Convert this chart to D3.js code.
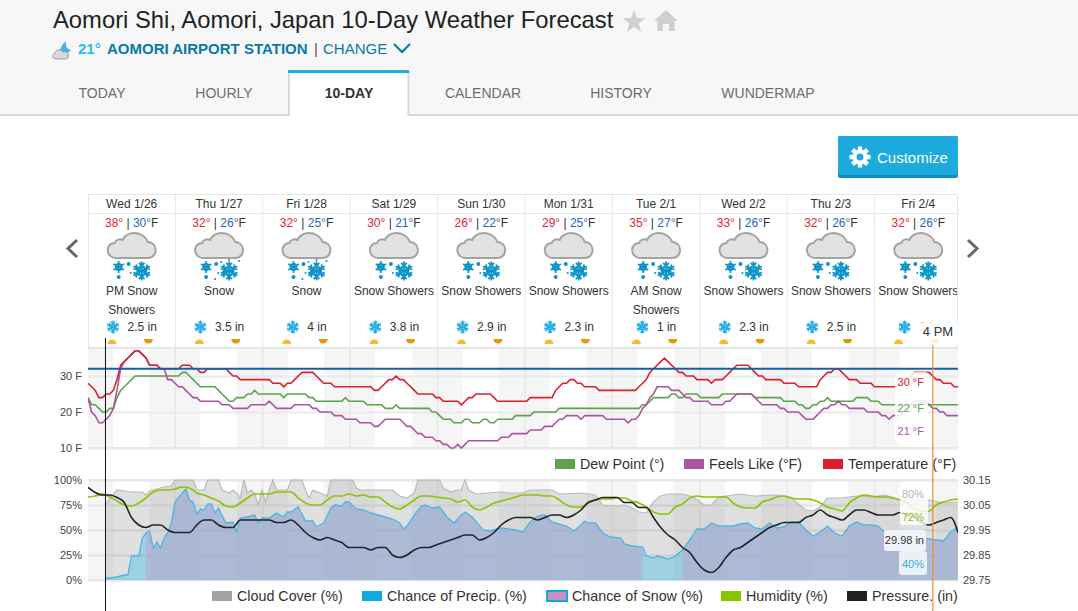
<!DOCTYPE html>
<html>
<head>
<meta charset="utf-8">
<title>Aomori Shi 10-Day Weather Forecast</title>
<script src="https://cdn.jsdelivr.net/npm/d3@7"></script>
<style>
    html, body { margin: 0; padding: 0; background: #fff; overflow: hidden; }
    svg { display: block; font-family: "Liberation Sans", Arial, sans-serif; }
</style>
</head>
<body>
<div id="demo"></div>
<script>
// forecast table
const dayNames = ["Wed 1/26","Thu 1/27","Fri 1/28","Sat 1/29","Sun 1/30","Mon 1/31","Tue 2/1","Wed 2/2","Thu 2/3","Fri 2/4"];
const highs = [38,32,32,30,26,29,35,33,32,32];
const lows = [30,26,25,21,22,25,27,26,26,26];
const conditions = [["PM Snow","Showers"],["Snow"],["Snow"],["Snow Showers"],["Snow Showers"],["Snow Showers"],["AM Snow","Showers"],["Snow Showers"],["Snow Showers"],["Snow Showers"]];
const snowfall = ["2.5 in","3.5 in","4 in","3.8 in","2.9 in","2.3 in","1 in","2.3 in","2.5 in","2 in"];
const tabNames = ["TODAY","HOURLY","10-DAY","CALENDAR","HISTORY","WUNDERMAP"];

// hourly temperature series, one line per day
const temperature = [
    28,27,26,24,24,25,25,26,29,33,34,35,36,37,37,36,35,33,33,33,32,32,32,32,
    32,32,33,33,33,32,32,31,31,32,32,32,32,32,32,31,30,30,29,29,29,29,29,29,
    29,29,29,28,28,28,27,28,28,29,30,31,31,31,31,30,29,28,28,28,27,27,27,27,
    27,27,27,27,27,27,27,26,26,27,28,29,29,30,29,29,28,27,26,25,25,25,25,25,
    24,24,23,23,23,23,23,22,23,24,24,25,25,25,25,25,24,23,23,23,23,23,23,23,
    23,23,24,24,24,24,24,24,24,26,27,28,28,29,29,28,28,27,27,27,27,26,26,26,
    26,26,26,26,26,26,26,26,27,28,29,31,32,33,34,35,34,33,32,31,31,30,30,30,
    29,29,29,29,28,29,29,29,30,31,32,33,33,33,33,32,31,30,30,29,29,29,29,29,
    28,28,28,28,27,27,27,27,27,27,29,30,31,31,32,32,31,30,29,29,29,28,28,28,
    28,27,27,27,27,27,27,27,28,28,29,30,31,31,31,31,31,30,29,29,28,28,28,27,
    27];
const dewPoint = [
    24,22,22,21,20,20,21,21,24,26,27,28,29,30,30,30,30,30,30,30,30,30,30,30,
    30,30,31,31,30,29,28,27,27,27,27,27,26,25,24,23,23,24,24,24,25,25,26,25,
    25,25,25,25,25,25,24,25,25,25,25,25,25,24,24,23,23,23,23,23,23,23,23,24,
    23,23,23,23,23,22,22,22,22,22,21,21,21,22,21,21,21,21,21,21,21,21,21,20,
    20,19,18,18,18,17,17,17,18,18,17,17,17,18,18,17,17,18,18,18,18,18,19,19,
    19,19,19,20,20,20,20,20,20,20,21,21,21,21,21,21,21,21,21,21,21,21,21,21,
    21,21,21,21,21,21,21,21,21,22,22,23,24,24,24,24,24,25,25,24,24,25,25,25,
    25,24,24,24,24,24,24,25,25,25,25,25,25,25,25,25,24,24,24,24,24,24,24,24,
    23,23,23,23,22,22,21,21,22,22,23,23,24,23,23,23,23,23,23,23,24,24,24,24,
    23,23,23,22,22,22,22,22,22,22,22,22,22,22,23,22,22,22,22,22,22,22,22,22,
    22];
const feelsLike = [
    24,20,19,17,17,18,19,21,26,32,34,35,36,37,37,36,35,33,33,33,32,32,29,29,
    28,27,27,26,25,24,24,23,23,23,23,23,23,22,22,22,21,21,21,21,21,22,22,22,
    22,22,23,22,21,21,21,21,21,22,22,22,22,22,21,21,20,20,20,20,19,19,19,18,
    18,18,18,17,17,17,17,16,16,17,18,18,18,18,18,17,16,16,15,14,14,13,13,13,
    12,12,11,11,10,10,11,10,11,12,12,12,12,12,12,12,12,12,13,13,13,14,14,14,
    14,14,15,15,15,15,16,16,16,17,18,18,19,19,19,19,18,19,19,19,19,19,19,18,
    18,18,18,18,18,17,18,18,19,21,22,24,25,27,27,27,27,26,26,26,25,24,24,23,
    23,23,23,23,22,22,22,22,23,23,24,25,25,25,25,25,24,23,22,22,22,22,22,21,
    21,20,20,20,20,19,18,18,18,19,20,21,21,22,22,23,22,22,21,21,21,21,21,20,
    20,20,20,19,19,18,19,19,19,20,21,22,23,23,23,23,22,21,21,20,20,19,19,19,
    19];
const freezing = 32;

// two-hourly series, one line per day
const humidity = [
    83,84,86,83,79,75,74,77,82,88,90,90,
    91,93,92,87,85,82,79,74,73,77,82,86,
    86,86,88,88,88,82,77,75,75,80,84,84,
    86,84,85,83,83,78,73,71,75,80,84,84,
    83,82,81,78,80,73,70,73,77,79,81,83,
    85,85,85,84,84,80,75,73,73,77,80,81,
    81,82,82,79,77,73,68,66,66,73,76,82,
    84,83,83,83,83,77,73,72,72,78,80,83,
    84,82,81,81,80,77,73,71,69,77,82,85,
    84,83,83,82,80,77,71,69,69,75,78,80,
    81];
const pressure = [
    30.12,30.10,30.09,30.09,30.08,30.06,30.00,29.97,29.96,29.97,29.97,29.95,
    29.94,29.94,29.94,29.97,29.99,29.99,29.97,29.96,29.96,29.99,29.99,29.99,
    29.99,29.99,29.98,29.98,29.99,29.97,29.94,29.92,29.91,29.92,29.91,29.90,
    29.88,29.88,29.88,29.87,29.88,29.88,29.85,29.84,29.85,29.87,29.88,29.88,
    29.89,29.90,29.91,29.92,29.93,29.93,29.91,29.92,29.94,29.97,29.99,30.00,
    30.00,30.00,29.99,30.00,30.01,30.01,30.00,30.01,30.03,30.06,30.07,30.08,
    30.08,30.08,30.06,30.06,30.04,30.04,30.00,29.96,29.93,29.91,29.88,29.86,
    29.82,29.79,29.78,29.80,29.84,29.87,29.88,29.90,29.92,29.94,29.96,29.97,
    29.98,29.98,29.98,30.00,30.01,30.03,30.01,30.00,29.99,30.01,30.03,30.03,
    30.02,30.01,30.01,30.01,30.02,30.01,30.00,29.98,29.97,29.98,29.99,30.00,
    29.94];

// cloud and precip only start at the current hour, and are listed with their hour
const cloudHours = [
    5,6,8,10,12,15,16,17,19,21,
    23,24,29,30,32,33,36,37,39,40,
    41,42,43,44,45,46,47,48,49,50,
    51,52,55,56,59,60,61,62,64,66,
    67,73,74,75,83,84,86,88,90,91,
    97,98,100,102,103,104,105,107,110,114,
    116,120,122,128,130,136,140,142,146,148,
    150,152,154,156,158,160,164,167,170,172,
    174,176,180,184,190,194,198,200,202,204,
    208,212,216,220,224,226,230,232,236,240];
const cloudCover = [
    75,82,90,89,88,88,85,89,91,93,
    94,100,100,90,90,100,100,90,87,90,
    87,82,100,87,90,86,75,90,78,90,
    100,90,90,100,100,90,82,90,87,84,
    100,100,92,90,90,90,84,82,87,100,
    100,92,88,90,90,100,90,86,87,88,
    87,87,90,90,86,87,85,75,74,75,
    72,68,67,78,84,86,86,83,75,75,
    83,84,86,84,85,82,70,69,73,82,
    82,84,83,85,80,80,80,80,77,78];
const precipHours = [
    5,6,8,10,11,12,14,15,16,17,
    18,19,20,21,22,23,24,26,27,28,
    29,30,31,32,33,34,35,36,38,40,
    41,42,44,46,47,48,50,52,54,55,
    56,58,60,62,63,65,67,68,70,71,
    72,74,76,78,80,82,84,86,87,88,
    90,92,93,95,97,99,101,103,104,106,
    109,111,114,118,120,122,124,126,128,132,
    134,136,137,138,140,142,144,147,148,150,
    153,154,156,157,160,162,164,166,168,170,
    172,174,176,178,180,182,184,186,188,190,
    192,194,196,198,200,202,204,206,208,210,
    212,214,216,218,220,222,224,226,228,230,
    232,234,236,238,240];
const chancePrecip = [
    2,2,3,5,5,24,24,42,47,49,
    32,38,32,42,47,57,78,87,91,80,
    78,66,71,70,76,76,67,72,57,58,
    48,62,63,65,57,62,62,67,63,68,
    68,73,59,59,53,57,72,75,74,78,
    78,71,70,67,65,63,61,57,51,54,
    65,74,75,72,73,63,57,65,68,63,
    50,49,52,50,48,58,64,65,58,54,
    49,55,59,57,57,47,43,42,36,34,
    33,24,22,24,21,24,30,40,51,51,
    57,54,54,54,56,57,52,51,57,52,
    53,58,58,50,44,48,54,47,44,54,
    58,55,55,54,47,44,42,40,40,42,
    41,40,39,48,53];
// hours where all of the precip is snow
const snowSpans = [[16,153],[164,240]];

const tempTicks = [10,20,30];
const pctTicks = [0,25,50,75,100];
const pressureTicks = [29.75,29.85,29.95,30.05,30.15];
const sunrise = 6.85, sunset = 16.85;
const nowHour = 4.8, hoverHour = 232;

const w = 1078, h = 611;
const left = 88, right = 958;
const svg = d3.select("#demo").append("svg").attr("width", w).attr("height", h);

// samples were read across the plot width, days run a little wider than it
const x = d3.scaleLinear().domain([0,240]).range([left,right]);
const dayX = d3.scaleLinear().domain([0,10]).range([left,962]);
const hourX = hr => dayX(hr/24);
const yTemp = d3.scaleLinear().domain([10,37.78]).range([448,348]);
const yPct = d3.scaleLinear().domain([0,100]).range([580,480]);
const yPres = d3.scaleLinear().domain([29.75,30.15]).range([580,480]);

svg.append("defs").append("clipPath").attr("id","plotClip")
    .append("rect").attr("x",left).attr("y",190).attr("width",right-left).attr("height",421);

// ---------- page header ----------
svg.append("rect").attr("width",w).attr("height",114).attr("fill","#f7f7f7");
svg.append("rect").attr("y",114).attr("width",w).attr("height",2).attr("fill","#d9d9d9");
svg.append("text").attr("x",53).attr("y",28).attr("font-size",23.8).attr("fill","#222")
    .text("Aomori Shi, Aomori, Japan 10-Day Weather Forecast");

const starPts = d3.range(10).map(i => {
    let r = i%2 ? 5 : 12, a = -Math.PI/2 + i*Math.PI/5;
    return [634+r*Math.cos(a), 22+r*Math.sin(a)];
});
svg.append("polygon").attr("points",starPts.join(" ")).attr("fill","#cfcfcf");
svg.append("path").attr("fill","#cfcfcf")
    .attr("d","M666 10 L678 21 H674.5 V31 H669 V24 H663 V31 H657.5 V21 H654 Z");

// station line
svg.append("path").attr("fill","#3bb6e8").attr("d","M59 53 C60 49 62 44 66 41 C65 46 67 49 71 50 C68 54 62 55 59 53 Z");
svg.append("path").attr("fill","#d8d8d8").attr("stroke","#999").attr("stroke-width",1)
    .attr("d","M56 59 C52 59 52 54 55 53 C56 49 62 49 63 52 C67 51 69 53 68 56 C69 59 66 59 65 59 Z");
svg.append("text").attr("x",78).attr("y",54).attr("font-size",15).attr("font-weight","bold").attr("fill","#2db8ee").text("21°");
svg.append("text").attr("x",107).attr("y",54).attr("font-size",15).attr("font-weight","bold").attr("fill","#0a79a6").text("AOMORI AIRPORT STATION");
svg.append("text").attr("x",314).attr("y",54).attr("font-size",15).attr("fill","#555").text("|");
svg.append("text").attr("x",323).attr("y",54).attr("font-size",15).attr("fill","#0a79a6").text("CHANGE");
svg.append("path").attr("d","M394 44 L402 52 L410 44").attr("fill","none").attr("stroke","#0a79a6").attr("stroke-width",2);

// tabs
svg.append("rect").attr("x",288).attr("y",70).attr("width",121).attr("height",46).attr("fill","#fff");
svg.append("path").attr("d","M289 72 V116 M408.5 72 V116").attr("stroke","#d9d9d9").attr("stroke-width",2);
svg.append("rect").attr("x",288).attr("y",70).attr("width",121).attr("height",3).attr("fill","#1aaee2");
const tabCenters = [102,224,349,483,621,768];
svg.selectAll(".tab").data(tabNames).join("text").attr("class","tab")
    .attr("x",(d,i) => tabCenters[i]).attr("y",98).attr("text-anchor","middle").attr("font-size",14)
    .attr("font-weight",d => d=="10-DAY" ? "bold" : "normal")
    .attr("fill",d => d=="10-DAY" ? "#333" : "#6e6e6e").text(d => d);

// customize button
svg.append("rect").attr("x",838).attr("y",136).attr("width",120).attr("height",42).attr("rx",2).attr("fill","#1190bd");
svg.append("rect").attr("x",838).attr("y",136).attr("width",120).attr("height",39).attr("rx",2).attr("fill","#1dabdd");
const gear = svg.append("g").attr("transform","translate(860,157)");
gear.selectAll("rect").data(d3.range(8)).join("rect")
    .attr("x",-2.2).attr("y",-10.5).attr("width",4.4).attr("height",5).attr("fill","#fff")
    .attr("transform",d => `rotate(${d*45})`);
gear.append("circle").attr("r",5.5).attr("fill","none").attr("stroke","#fff").attr("stroke-width",4);
svg.append("text").attr("x",877).attr("y",163).attr("font-size",15).attr("fill","#fff").text("Customize");

// prev / next arrows
svg.append("path").attr("d","M77 240 L68 248.5 L77 257").attr("fill","none").attr("stroke","#666").attr("stroke-width",3);
svg.append("path").attr("d","M968 240 L977 248.5 L968 257").attr("fill","none").attr("stroke","#666").attr("stroke-width",3);

// ---------- forecast table ----------
const table = svg.append("g").attr("clip-path","url(#plotClip)");
const tableLine = "#e6e6e6";
table.append("path").attr("stroke",tableLine).attr("d",`M${left} 194.5 H${right} M${left} 213.5 H${right}`);
svg.append("path").attr("stroke",tableLine).attr("d",`M88.5 194 V348 M957.5 194 V348`);
table.selectAll(".dayLine").data(d3.range(1,10)).join("line").attr("class","dayLine")
    .attr("x1",d => dayX(d)).attr("x2",d => dayX(d)).attr("y1",194).attr("y2",348).attr("stroke",tableLine);

function flake(g, cx, cy, r, color, sw) {
    let f = g.append("g").attr("transform",`translate(${cx},${cy})`)
        .attr("stroke",color).attr("stroke-width",sw).attr("fill","none");
    d3.range(6).forEach(i => {
        f.append("path").attr("transform",`rotate(${i*60})`)
            .attr("d",`M0 0 V${-r} M${-r*0.3} ${-r*0.85} L0 ${-r*0.55} L${r*0.3} ${-r*0.85} M${-r*0.25} ${-r*0.5} L0 ${-r*0.28} L${r*0.25} ${-r*0.5}`);
    });
}

function weatherIcon(g, cx, heavy) {
    g.append("path").attr("transform",`translate(${cx},258)`)
        .attr("fill","#e2e2e2").attr("stroke","#a3a3a3").attr("stroke-width",2)
        .attr("d","M-16 0 H16 C22 0 24 -5 24 -8 C24 -13 20 -16 16 -16 C14 -22 8 -25 2 -25 C-4 -25 -8 -21 -9 -18 C-12 -20 -16 -18 -17 -15 C-21 -15 -24 -12 -24 -8 C-24 -3 -20 0 -16 0 Z");
    flake(g, cx+10, 271, 9.5, "#0c94c6", 1.8);
    // small gear flake
    let s = g.append("g").attr("transform",`translate(${cx-13},267)`);
    s.append("circle").attr("r",3).attr("fill","none").attr("stroke","#0c94c6").attr("stroke-width",1.8);
    s.selectAll("line").data(d3.range(6)).join("line").attr("y2",-6).attr("stroke","#0c94c6").attr("stroke-width",1.6)
        .attr("transform",d => `rotate(${d*60})`);
    let dots = [[-3,264,2],[-13,277,2],[-1,273,1]];
    if (heavy) dots = dots.concat([[5,272,2],[-4,279,1],[2,262,1],[10,260,1],[20,261,1]]);
    g.selectAll(".dot").data(dots).join("circle").attr("class","dot")
        .attr("cx",d => cx+d[0]).attr("cy",d => d[1]).attr("r",d => d[2]).attr("fill","#0c94c6");
}

dayNames.forEach((name,i) => {
    let cx = dayX(i+0.5);
    let col = table.append("g");
    col.append("text").attr("x",cx).attr("y",208).attr("text-anchor","middle").attr("font-size",12).attr("fill","#333").text(name);
    let t = col.append("text").attr("x",cx).attr("y",227).attr("text-anchor","middle").attr("font-size",12).attr("fill","#333");
    t.append("tspan").attr("fill","#e2252f").text(highs[i]+"°");
    t.append("tspan").text(" | ");
    t.append("tspan").attr("fill","#1c66bf").text(lows[i]+"°");
    t.append("tspan").text("F");
    weatherIcon(col, cx, i==1 || i==2);
    conditions[i].forEach((line,k) => {
        col.append("text").attr("x",cx).attr("y",295+k*18.5).attr("text-anchor","middle").attr("font-size",12).attr("fill","#333").text(line);
    });
    let amount = col.append("text").attr("y",331).attr("font-size",12).attr("fill","#333").attr("opacity",i==9 ? 0.25 : 1).text(snowfall[i]);
    let len = amount.node().getComputedTextLength();
    let startX = cx - (len+21)/2;
    amount.attr("x",startX+21);
    flake(col, startX+6.5, 327, 6.5, "#2aaee2", 1.3);

    // sunrise and sunset marks sit on their hour
    col.append("path").attr("transform",`translate(${hourX(i*24+sunrise)-1},344)`).attr("fill","#fbb92f").attr("d","M-4.5 0 A4.5 4.5 0 0 1 4.5 0 Z");
    col.append("path").attr("transform",`translate(${hourX(i*24+sunset)-1},339)`).attr("fill","#e39a05").attr("d","M-4.5 0 A4.5 4.5 0 0 0 4.5 0 Z");
});

// ---------- plot backgrounds ----------
const plots = [[348,448],[480,580]];
plots.forEach(p => {
    let g = svg.append("g").attr("clip-path","url(#plotClip)");
    g.append("rect").attr("x",left).attr("y",p[0]).attr("width",right-left).attr("height",p[1]-p[0]).attr("fill","#f5f5f5");
    g.selectAll(".dayBand").data(d3.range(10)).join("rect").attr("class","dayBand")
        .attr("x",d => hourX(d*24+sunrise)).attr("width",hourX(sunset)-hourX(sunrise))
        .attr("y",p[0]).attr("height",p[1]-p[0]).attr("fill","#fff");
    g.selectAll(".dayLine").data(d3.range(1,10)).join("line").attr("class","dayLine")
        .attr("x1",d => dayX(d)).attr("x2",d => dayX(d)).attr("y1",p[0]).attr("y2",p[1]).attr("stroke","#e6e6e6").attr("stroke-width",1.5);
    g.append("path").attr("d",`M${left} ${p[0]} H${right} M${left} ${p[1]} H${right}`).attr("stroke","#e6e6e6").attr("stroke-width",2);
});

function styleAxis(g, tickColor) {
    g.select(".domain").remove();
    g.selectAll("line").attr("stroke",tickColor).attr("stroke-width",2);
    g.selectAll("text").attr("font-size",11).attr("fill","#444").attr("font-family","Liberation Sans, Arial, sans-serif");
}

// ---------- temperature chart ----------
svg.append("g").attr("transform",`translate(${left},0)`)
    .call(d3.axisLeft(yTemp).tickValues(tempTicks).tickFormat(d => d+" F").tickSize(-(right-left)).tickPadding(6))
    .call(g => styleAxis(g,"#eaeaea"));

const tempLine = d3.line().x((d,i) => x(i)).y(d => yTemp(d));
const tempSeries = [[dewPoint,"#5ba34c"],[feelsLike,"#ab54a2"],[temperature,"#d9202c"]];
const tempG = svg.append("g").attr("clip-path","url(#plotClip)");
tempSeries.forEach(s => {
    tempG.append("path").datum(s[0]).attr("d",tempLine).attr("fill","none").attr("stroke",s[1]).attr("stroke-width",1.6);
});
tempG.append("line").attr("x1",left).attr("x2",right).attr("y1",yTemp(freezing)).attr("y2",yTemp(freezing))
    .attr("stroke","#1a5ca8").attr("stroke-width",2);

// ---------- cloud / precip chart ----------
svg.append("g").attr("transform",`translate(${left},0)`)
    .call(d3.axisLeft(yPct).tickValues(pctTicks).tickFormat(d => d+"%").tickSize(-(right-left)).tickPadding(6))
    .call(g => styleAxis(g,"#e6e6e6"));
svg.append("g").attr("transform",`translate(${right},0)`)
    .call(d3.axisRight(yPres).tickValues(pressureTicks).tickFormat(d3.format(".2f")).tickSize(0).tickPadding(5))
    .call(g => styleAxis(g,"none"));

const lowerG = svg.append("g").attr("clip-path","url(#plotClip)");
const zipPts = (hours, vals) => hours.map((hr,i) => [hr, vals[i]]);
const pctArea = d3.area().x(d => x(d[0])).y0(yPct(0)).y1(d => yPct(d[1]));
const pctLine = d3.line().x(d => x(d[0])).y(d => yPct(d[1]));

const cloudPts = zipPts(cloudHours, cloudCover);
lowerG.append("path").datum(cloudPts).attr("d",pctArea).attr("fill","#8c8c8c").attr("fill-opacity",0.27);
lowerG.append("path").datum(cloudPts).attr("d",pctLine).attr("fill","none").attr("stroke","#bababa").attr("stroke-width",1.2);

const precipPts = zipPts(precipHours, chancePrecip);
lowerG.append("path").datum(precipPts).attr("d",pctArea).attr("fill","#32b9e1").attr("fill-opacity",0.38);
snowSpans.forEach(span => {
    let pts = precipPts.filter(d => d[0]>=span[0] && d[0]<=span[1]);
    lowerG.append("path").datum(pts).attr("d",pctArea).attr("fill","#baa8ce").attr("fill-opacity",0.55);
});
lowerG.append("path").datum(precipPts).attr("d",pctLine).attr("fill","none").attr("stroke","#4db6e0").attr("stroke-width",1.3);

const twoHourly = i => i*2;
lowerG.append("path").datum(humidity)
    .attr("d",d3.line().x((d,i) => x(twoHourly(i))).y(d => yPct(d)).curve(d3.curveMonotoneX))
    .attr("fill","none").attr("stroke","#8cc40a").attr("stroke-width",1.7);
lowerG.append("path").datum(pressure)
    .attr("d",d3.line().x((d,i) => x(twoHourly(i))).y(d => yPres(d)).curve(d3.curveMonotoneX))
    .attr("fill","none").attr("stroke","#222528").attr("stroke-width",1.6);

// ---------- legends ----------
function legend(items, yy, size) {
    items.forEach(it => {
        svg.append("rect").attr("x",it.x).attr("y",yy-5).attr("width",20).attr("height",10)
            .attr("fill",it.color).attr("stroke",it.border || "none").attr("stroke-width",it.border ? 2 : 0);
        svg.append("text").attr("x",it.x+25).attr("y",yy+5).attr("font-size",size).attr("fill","#333").text(it.name);
    });
}
legend([{x:555,color:"#5ba34c",name:"Dew Point (°)"},{x:684,color:"#ab54a2",name:"Feels Like (°F)"},{x:823,color:"#d9202c",name:"Temperature (°F)"}],464,14.3);
legend([{x:212,color:"#a3a3a3",name:"Cloud Cover (%)"},{x:362,color:"#12a9de",name:"Chance of Precip. (%)"},
    {x:547,color:"#c98fc2",border:"#12a9de",name:"Chance of Snow (%)"},{x:721,color:"#88c400",name:"Humidity (%)"},
    {x:847,color:"#1e2024",name:"Pressure. (in)"}],596,14.3);

// ---------- hover readout ----------
function veil(x0,y0,wd,ht,color,op) {
    svg.append("rect").attr("x",x0).attr("y",y0).attr("width",wd).attr("height",ht).attr("rx",3).attr("fill",color).attr("opacity",op);
}
function readout(xx,yy,txt,color) {
    svg.append("text").attr("x",xx).attr("y",yy).attr("text-anchor","end").attr("font-size",11).attr("fill",color).text(txt);
}
veil(895,372,33,71,"#fff",0.85);
readout(924,386,"30 °F","#d9202c");
readout(924,412,"22 °F","#5ba34c");
readout(924,435,"21 °F","#ab54a2");
veil(900,487,28,38,"#fff",0.8);
readout(924,498,"80%","#b5b5b5");
readout(924,521,"72%","#8cc40a");
veil(884,530,42,21,"#f1f3f8",1);
readout(924,544,"29.98 in","#333");
veil(899,551,28,24,"#eef2f8",0.95);
readout(924,568,"40%","#2ab0e2");

veil(918,323,40,22,"#fff",0.85);
svg.append("text").attr("x",938).attr("y",336).attr("text-anchor","middle").attr("font-size",13).attr("fill","#333").text("4 PM");

// current time and hovered time
svg.append("line").attr("x1",hourX(nowHour)).attr("x2",hourX(nowHour)).attr("y1",338).attr("y2",611).attr("stroke","#111").attr("stroke-width",1);
svg.append("line").attr("x1",hourX(hoverHour)).attr("x2",hourX(hoverHour)).attr("y1",345).attr("y2",611).attr("stroke","#f28c28").attr("stroke-width",1.2);
</script>
</body>
</html>
